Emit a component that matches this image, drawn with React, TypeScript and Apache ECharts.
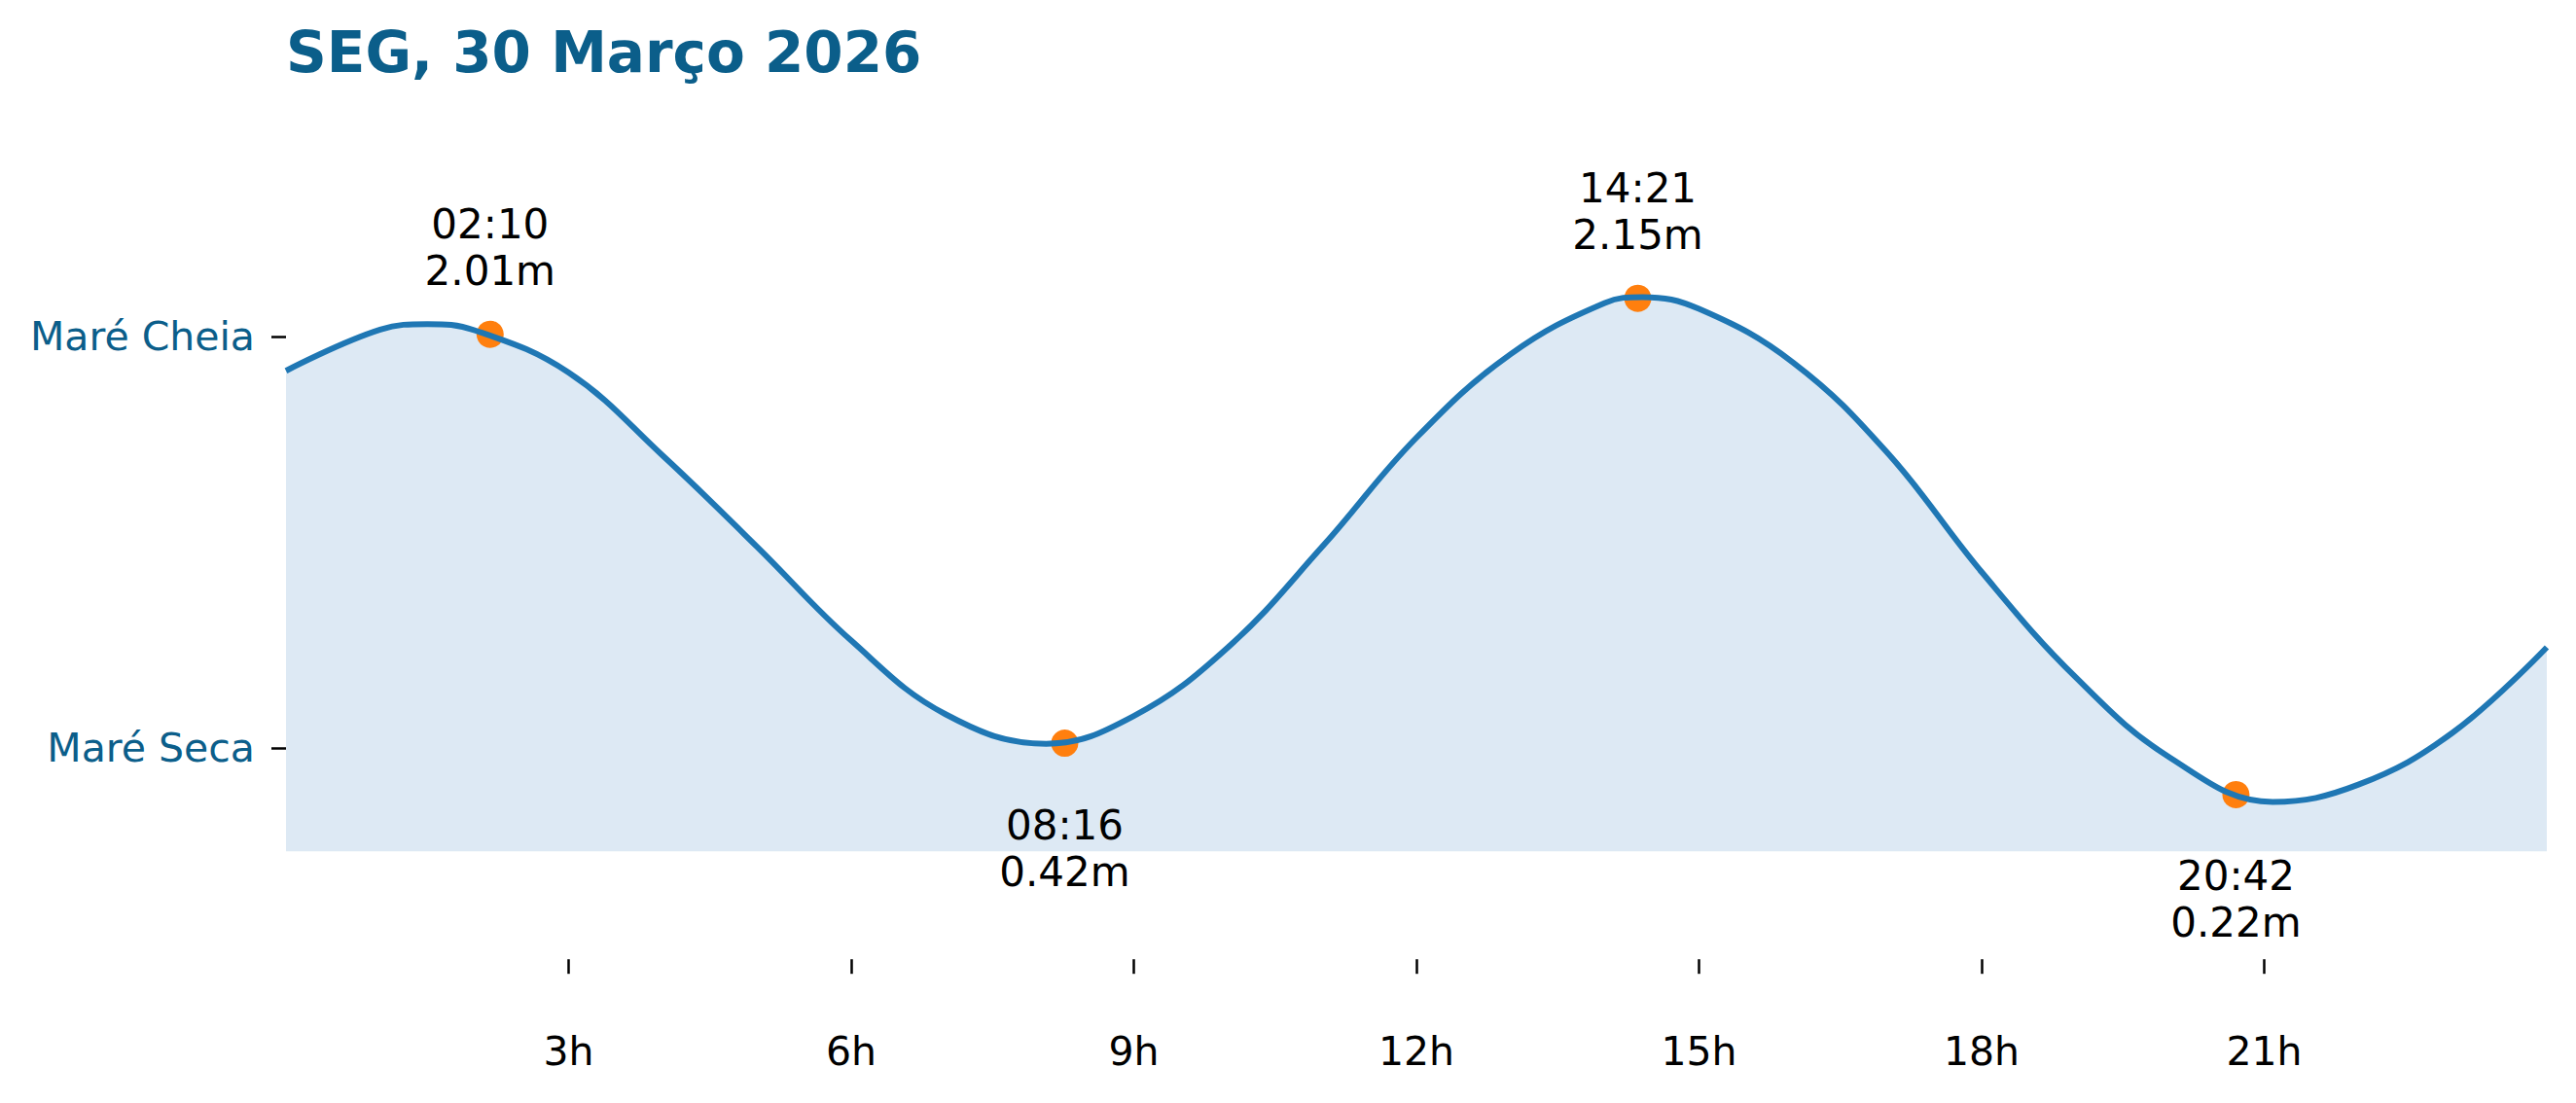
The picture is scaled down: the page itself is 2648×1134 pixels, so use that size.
import React, { useEffect, useRef } from "react";
import * as echarts from "echarts";

// Chart title
const chartTitle = "SEG, 30 Março 2026";

// Tide curve (hour of day, height in metres),
// hourly readings plus the curve's own turning points
const curveHours = [0, 1, 1.5, 2, 3, 4, 5, 6, 7, 8.07, 9, 10, 11, 12, 13, 14, 14.4, 15, 16, 17, 18, 19, 20, 21.09, 22, 23, 24];
const curveLevels = [1.868, 2.028, 2.05, 2.026, 1.861, 1.538, 1.184, 0.819, 0.533, 0.418, 0.526, 0.793, 1.184, 1.608, 1.933, 2.132, 2.155, 2.109, 1.9, 1.549, 1.086, 0.676, 0.364, 0.192, 0.259, 0.461, 0.793];

// High / low tide events
const tideTimes = ["02:10", "08:16", "14:21", "20:42"];
const tideHeights = [2.01, 0.42, 2.15, 0.22];
const tideKinds = ["high", "low", "high", "low"];

// Axis ticks
const xTickValues = [3, 6, 9, 12, 15, 18, 21];
const xTickLabels = ["3h", "6h", "9h", "12h", "15h", "18h", "21h"];
const yTickValues = [0.4, 2.0];
const yTickLabels = ["Maré Seca", "Maré Cheia"];

const FONT = "DejaVu Sans";
const BLUE_TEXT = "#0b5e8a";

function toHours(t: string): number {
  const [h, m] = t.split(":").map(Number);
  return h + m / 60;
}

export default function App() {
  const ref = useRef<HTMLDivElement>(null);

  useEffect(() => {
    document.body.style.margin = "0";
    document.body.style.overflow = "hidden";
    if (!ref.current) return;
    const chart = echarts.init(ref.current, undefined, { renderer: "svg" });

    const curveData = curveHours.map((h, i) => [h, curveLevels[i]]);
    const eventData = tideTimes.map((t, i) => {
      const isHigh = tideKinds[i] === "high";
      return {
        value: [toHours(t), tideHeights[i]],
        label: {
          position: isHigh ? "top" : "bottom",
          distance: isHigh ? 27 : 46,
        },
      };
    });

    chart.setOption({
      animation: false,
      backgroundColor: "#ffffff",
      title: {
        text: chartTitle,
        left: 294,
        top: 25,
        padding: 0,
        textStyle: {
          fontFamily: FONT,
          fontWeight: "bold",
          fontSize: 58,
          color: BLUE_TEXT,
        },
      },
      grid: {
        left: 294,
        top: 108.4,
        width: 2324,
        height: 877.8,
        containLabel: false,
      },
      xAxis: {
        type: "value",
        min: 0,
        max: 24,
        splitLine: { show: false },
        axisLine: { show: false, onZero: false },
        axisTick: {
          show: true,
          customValues: xTickValues,
          length: 15,
          lineStyle: { color: "#000", width: 2.5 },
        },
        axisLabel: {
          show: true,
          customValues: xTickValues,
          formatter: (v: number) => xTickLabels[xTickValues.indexOf(v)] ?? "",
          margin: 74,
          fontFamily: FONT,
          fontSize: 41,
          lineHeight: 41,
          color: "#000",
        },
      },
      yAxis: {
        type: "value",
        min: -0.42,
        max: 2.9,
        splitLine: { show: false },
        axisLine: { show: false, onZero: false },
        axisTick: {
          show: true,
          customValues: yTickValues,
          length: 15,
          lineStyle: { color: "#000", width: 2.5 },
        },
        axisLabel: {
          show: true,
          customValues: yTickValues,
          formatter: (v: number) => yTickLabels[yTickValues.indexOf(v)] ?? "",
          margin: 32,
          fontFamily: FONT,
          fontSize: 41,
          color: BLUE_TEXT,
        },
      },
      series: [
        {
          type: "line",
          data: curveData,
          smooth: 0.4,
          symbol: "none",
          silent: true,
          z: 1,
          lineStyle: { width: 0, opacity: 0 },
          areaStyle: { color: "#dde9f4", opacity: 1, origin: 0 },
        },
        {
          type: "scatter",
          data: eventData,
          symbol: "circle",
          symbolSize: 28,
          silent: true,
          z: 2,
          itemStyle: { color: "#ff7f0e", opacity: 1 },
          label: {
            show: true,
            formatter: (p: any) => {
              const i = p.dataIndex;
              return `${tideTimes[i]}\n${tideHeights[i].toFixed(2)}m`;
            },
            fontFamily: FONT,
            fontSize: 42,
            lineHeight: 48,
            color: "#000",
            align: "center",
          },
        },
        {
          type: "line",
          data: curveData,
          smooth: 0.4,
          symbol: "none",
          silent: true,
          z: 3,
          lineStyle: { color: "#1f77b4", width: 6 },
        },
      ],
    });

    return () => {
      chart.dispose();
    };
  }, []);

  return <div ref={ref} style={{ width: 2648, height: 1134 }} />;
}
